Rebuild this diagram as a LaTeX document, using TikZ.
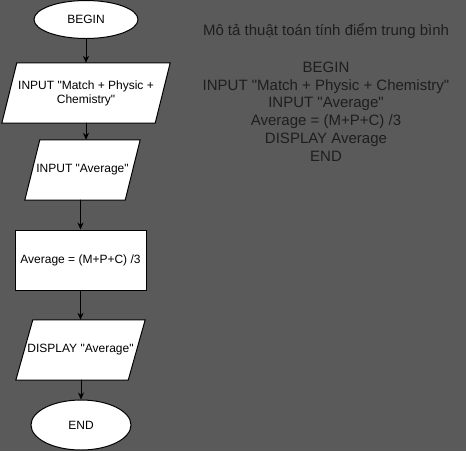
\documentclass[tikz,border=0pt]{standalone}
\usepackage{fontspec}
\setmainfont{Liberation Sans}[Ligatures=TeXOff]
\usepackage{tikz}
\usetikzlibrary{shapes.geometric,arrows.meta,backgrounds}
\definecolor{bgcolor}{HTML}{5A5A5A}
\definecolor{desccolor}{HTML}{1E1E1E}

\begin{document}
\begin{tikzpicture}
		[x=1pt,y=-1pt,line cap=round,
		%Styles
		terminal/.style={ellipse,draw,fill=white,line width=1pt,inner sep=0pt,font=\fontsize{12}{14}\selectfont},
		io box/.style={rectangle,inner sep=0pt,minimum height=60pt,align=center,font=\fontsize{12}{14}\selectfont},
		io shape/.style={draw,fill=white,line width=1pt,line join=miter},
		process box/.style={rectangle,draw,fill=white,line width=1pt,minimum width=131pt,minimum height=60pt,font=\fontsize{12}{14}\selectfont},
		flow/.style={line width=1pt,-{Stealth[length=7pt,width=6pt]}},
		description/.style={text=desccolor,align=center,font=\fontsize{15}{17.8}\selectfont}
		]
		
		%Background
		\begin{scope}[on background layer]
			\fill[bgcolor] (0,0) rectangle (466,451);
		\end{scope}
		\useasboundingbox (0,0) rectangle (466,451);
		
		%The flowchart
		\node[terminal,minimum width=104pt,minimum height=38pt] (begin) at (86,19.5) {BEGIN};
		\node[io box,minimum width=168pt] (inp1) at (86,93) {INPUT "Match + Physic +\\Chemistry"};
		\node[io box,minimum width=115pt] (inp2) at (82.5,170) {INPUT "Average"};
		\node[process box] (avg) at (80.5,260) {Average = (M+P+C) /3};
		\node[io box,minimum width=129pt] (disp) at (80.5,350) {DISPLAY "Average"};
		\node[terminal,minimum width=100pt,minimum height=50pt] (end) at (81,425) {END};
		
		%Parallelograms behind the io texts
		\begin{scope}[on background layer]
			\foreach \io/\slant in {inp1/15,inp2/15,disp/17}
				\draw[io shape] ([xshift=\slant pt]\io.north west) -- (\io.north east)
					-- ([xshift=-\slant pt]\io.south east) -- (\io.south west) -- cycle;
		\end{scope}
		
		\draw[flow] (begin.south) -- (begin.south |- inp1.north);
		\draw[flow] (inp1.south) -- (inp1.south |- inp2.north);
		\draw[flow] (avg.north |- inp2.south) -- (avg.north);
		\draw[flow] (avg.south) -- (avg.south |- disp.north);
		\draw[flow] (end.north |- disp.south) -- (end.north);
		
		%Description text
		\node[description] (title) at (326,31) {Mô tả thuật toán tính điểm trung bình};
		\node[description] (steps) at (326,111.5) {BEGIN\\INPUT "Match + Physic + Chemistry"\\INPUT "Average"\\Average = (M+P+C) /3\\DISPLAY Average\\END};
	\end{tikzpicture}
\end{document}
